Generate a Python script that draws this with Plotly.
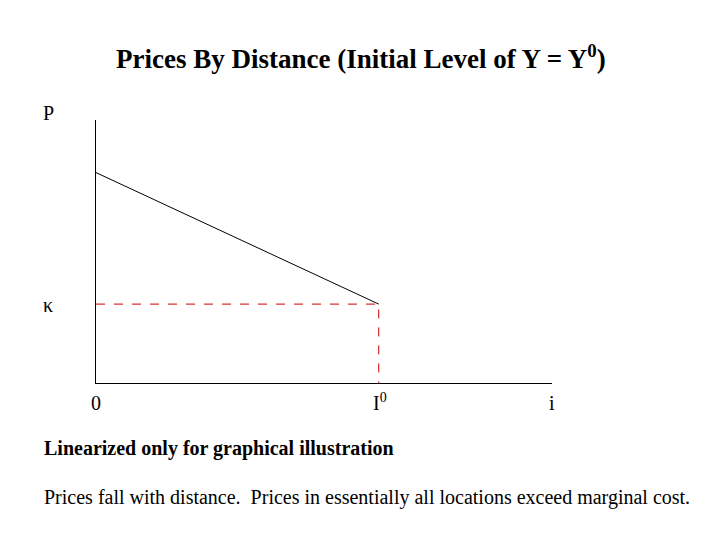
import plotly.graph_objects as go

line_x = [0, 62]
line_y = [80, 30]
kappa = 30
i0 = 62

F = "Liberation Serif, Times New Roman, serif"
fig = go.Figure()
fig.add_trace(go.Scatter(x=line_x, y=line_y, mode="lines", line=dict(color="black", width=1), hoverinfo="skip"))
fig.add_trace(go.Scatter(x=[0, i0, i0], y=[kappa, kappa, 0], mode="lines",
                         line=dict(color="#cc0000", width=1, dash="dash"), hoverinfo="skip"))

OFF = 8  # page body margin
W, H = 712, 532
L, R = 96 - OFF, W - (552 - OFF)
T, B = 120 - OFF, H - (383 - OFF)
pw, ph = W - L - R, H - T - B
def px(x): return (x - OFF - L) / pw
def py(y): return (H - B - (y - OFF)) / ph

def ann(text, x, y, size=20, bold=False, xanchor="center"):
    if bold: text = "<b>" + text + "</b>"
    fig.add_annotation(text=text, x=px(x), y=py(y), xref="paper", yref="paper", showarrow=False,
                       xanchor=xanchor, yanchor="middle", font=dict(family=F, size=size, color="black"))

ann("Prices By Distance (Initial Level of Y = Y<sup>0</sup>)", 361, 57, size=27, bold=True)
ann("P", 48, 113)
ann("κ", 48, 305)
ann("0", 96, 403)
ann("I<sup>0</sup>", 380, 402)
ann("i", 552, 403)
ann("Linearized only for graphical illustration", 42, 448, bold=True, xanchor="left")
ann("Prices fall with distance.  Prices in essentially all locations exceed marginal cost.", 42, 497, xanchor="left")

fig.update_xaxes(range=[0, 100], showline=True, linecolor="black", linewidth=1, showgrid=False,
                 zeroline=False, showticklabels=False, ticks="")
fig.update_yaxes(range=[0, 100], showline=True, linecolor="black", linewidth=1, showgrid=False,
                 zeroline=False, showticklabels=False, ticks="")
fig.update_layout(width=W, height=H, margin=dict(l=L, r=R, t=T, b=B), showlegend=False,
                  plot_bgcolor="white", paper_bgcolor="white")
fig.write_html("out.html")
